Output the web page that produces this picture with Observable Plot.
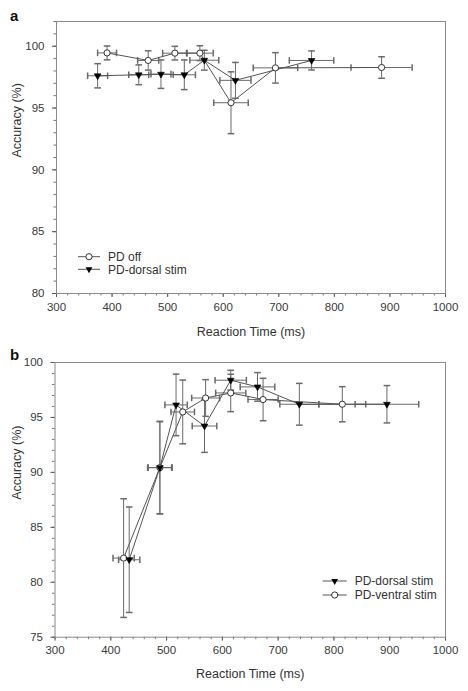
<!DOCTYPE html>
<html>
<head>
<meta charset="utf-8">
<script src="https://cdn.jsdelivr.net/npm/d3@7"></script>
<script src="https://cdn.jsdelivr.net/npm/@observablehq/plot@0.6"></script>
<style>
  html, body { margin: 0; padding: 0; background: #fff; }
  #wrap { position: relative; width: 468px; height: 691px; font-family: "Liberation Sans", Arial, sans-serif; color: #333; }
  #wrap svg { display: block; }
  .plabel { position: absolute; font-weight: bold; font-size: 15px; color: #111; line-height: 1; }
  #overlay { position: absolute; left: 0; top: 0; pointer-events: none; }
</style>
</head>
<body>
<div id="wrap"></div>
<script>
// ---------------- DATA ----------------
// Panel a: PD off (open circles)
const aOffRT     = [391, 465, 513, 558, 614, 694, 885];
const aOffAcc    = [99.46, 98.85, 99.44, 99.44, 95.43, 98.25, 98.28];
const aOffRTErr  = [17, 19, 22, 24, 31, 40, 55];
const aOffAccErr = [0.56, 0.78, 0.55, 0.6, 2.5, 1.23, 0.87];
// Panel a: PD-dorsal stim (filled triangles)
const aDorRT     = [374, 448, 488, 530, 566, 622, 759];
const aDorAcc    = [97.61, 97.69, 97.74, 97.69, 98.87, 97.24, 98.85];
const aDorRTErr  = [18, 18, 18, 20, 26, 28, 40];
const aDorAccErr = [0.98, 0.8, 1.15, 1.2, 0.8, 1.45, 0.77];
// Panel b: PD-dorsal stim (filled triangles)
const bDorRT     = [433, 488, 517, 568, 615, 663, 738, 895];
const bDorAcc    = [82.05, 90.43, 96.14, 94.22, 98.39, 97.78, 96.2, 96.2];
const bDorRTErr  = [19, 21, 20, 22, 28, 31, 35, 57];
const bDorAccErr = [4.8, 4.2, 2.8, 2.4, 0.9, 1.3, 1.9, 1.7];
// Panel b: PD-ventral stim (open circles)
const bVenRT     = [423, 488, 529, 570, 615, 673, 815];
const bVenAcc    = [82.2, 90.43, 95.5, 96.77, 97.23, 96.63, 96.2];
const bVenRTErr  = [19, 22, 21, 25, 27, 27, 42];
const bVenAccErr = [5.4, 4.2, 2.9, 1.67, 1.7, 1.93, 1.6];

const xTicks  = [300, 400, 500, 600, 700, 800, 900, 1000];
const aYTicks = [80, 85, 90, 95, 100];
const bYTicks = [75, 80, 85, 90, 95, 100];
const xTitle = "Reaction Time (ms)";
const yTitle = "Accuracy (%)";
const aLegend = ["PD off", "PD-dorsal stim"];
const bLegend = ["PD-dorsal stim", "PD-ventral stim"];

// ---------------- HELPERS ----------------
function rows(rt, acc, rtErr, accErr) {
  return rt.map((x, i) => ({rt: x, acc: acc[i], rtErr: rtErr[i], accErr: accErr[i]}));
}
const hCap = {draw(ctx, size) { const r = Math.sqrt(size / Math.PI); ctx.moveTo(-r, 0); ctx.lineTo(r, 0); }};
const vCap = {draw(ctx, size) { const r = Math.sqrt(size / Math.PI); ctx.moveTo(0, -r); ctx.lineTo(0, r); }};
const ERR = "#6a6a6a", LINE = "#555", CAP = 3.3;
const fmt = d => String(d);

function seriesMarks(data) {
  return [
    Plot.ruleX(data, {x: "rt", y1: d => d.acc - d.accErr, y2: d => d.acc + d.accErr, stroke: ERR, strokeWidth: 1}),
    Plot.ruleY(data, {y: "acc", x1: d => d.rt - d.rtErr, x2: d => d.rt + d.rtErr, stroke: ERR, strokeWidth: 1}),
    Plot.dot(data, {x: "rt", y: d => d.acc - d.accErr, symbol: hCap, r: CAP, stroke: ERR, fill: "none"}),
    Plot.dot(data, {x: "rt", y: d => d.acc + d.accErr, symbol: hCap, r: CAP, stroke: ERR, fill: "none"}),
    Plot.dot(data, {x: d => d.rt - d.rtErr, y: "acc", symbol: vCap, r: CAP, stroke: ERR, fill: "none"}),
    Plot.dot(data, {x: d => d.rt + d.rtErr, y: "acc", symbol: vCap, r: CAP, stroke: ERR, fill: "none"}),
    Plot.line(data, {x: "rt", y: "acc", stroke: LINE, strokeWidth: 1})
  ];
}
function symbolMarks(data, kind) {
  if (kind === "circle")
    return Plot.dot(data, {x: "rt", y: "acc", r: 3.1, fill: "white", stroke: "#333", strokeWidth: 1});
  return Plot.dot(data, {x: "rt", y: "acc", symbol: "triangle", rotate: 180, r: 2.5, fill: "#000", stroke: "#000", strokeWidth: 0.6});
}

function panel({height, marginTop, marginLeft, marginRight, marginBottom, yDomain, yTicks, series, ylabDx, xlabDy}) {
  const yMinor = d3.range(yDomain[0], Math.floor(yDomain[1]) + 1, 1);
  const xMinor = d3.range(300, 1001, 20);
  return Plot.plot({
    width: 468, height, marginTop, marginLeft, marginRight, marginBottom,
    style: {fontFamily: "'Liberation Sans', Arial, sans-serif", fontSize: "11px", color: "#3a3a3a", background: "white"},
    x: {domain: [300, 1000]},
    y: {domain: yDomain},
    marks: [
      Plot.axisX(xMinor, {tickSize: 2.5, tickFormat: () => "", label: null, stroke: "#777"}),
      Plot.axisX(xTicks, {tickSize: 4, tickPadding: 5, tickFormat: fmt, label: null, stroke: "#555", fontSize: 11.5}),
      Plot.axisY(yMinor, {tickSize: 2.5, tickFormat: () => "", label: null, stroke: "#777"}),
      Plot.axisY(yTicks, {tickSize: 4, tickPadding: 8, tickFormat: fmt, label: null, stroke: "#555", fontSize: 11.5}),
      Plot.frame({stroke: "#8a8a8a", strokeWidth: 1}),
      ...series.flatMap(s => seriesMarks(s.data)),
      ...series.map(s => symbolMarks(s.data, s.kind)),
      Plot.text([xTitle], {frameAnchor: "bottom", dy: xlabDy, lineAnchor: "middle", fontSize: 12.5, fill: "#333"}),
      Plot.text([yTitle], {frameAnchor: "left", dx: ylabDx, rotate: -90, fontSize: 12.5, fill: "#333"})
    ]
  });
}

// ---------------- BUILD ----------------
const wrap = document.getElementById("wrap");
const pa = panel({
  height: 341, marginTop: 21, marginLeft: 56, marginRight: 23, marginBottom: 48,
  yDomain: [80, 102], yTicks: aYTicks, ylabDx: -40, xlabDy: 38,
  series: [
    {data: rows(aOffRT, aOffAcc, aOffRTErr, aOffAccErr), kind: "circle"},
    {data: rows(aDorRT, aDorAcc, aDorRTErr, aDorAccErr), kind: "tri"}
  ]
});
const pb = panel({
  height: 350, marginTop: 21, marginLeft: 54.5, marginRight: 23, marginBottom: 54.3,
  yDomain: [75, 100], yTicks: bYTicks, ylabDx: -38.5, xlabDy: 36.5,
  series: [
    {data: rows(bVenRT, bVenAcc, bVenRTErr, bVenAccErr), kind: "circle"},
    {data: rows(bDorRT, bDorAcc, bDorRTErr, bDorAccErr), kind: "tri"}
  ]
});
wrap.appendChild(pa);
wrap.appendChild(pb);

const la = document.createElement("div"); la.className = "plabel"; la.textContent = "a";
la.style.left = "10px"; la.style.top = "8px"; wrap.appendChild(la);
const lb = document.createElement("div"); lb.className = "plabel"; lb.textContent = "b";
lb.style.left = "10px"; lb.style.top = "347px"; wrap.appendChild(lb);

// legends
const ov = d3.select(wrap).append("svg").attr("id", "overlay").attr("width", 468).attr("height", 691)
  .style("font-family", "'Liberation Sans', Arial, sans-serif");
function legendItem(x0, x1, y, kind, label) {
  ov.append("line").attr("x1", x0).attr("x2", x1).attr("y1", y).attr("y2", y).attr("stroke", LINE);
  const cx = (x0 + x1) / 2;
  if (kind === "circle") ov.append("circle").attr("cx", cx).attr("cy", y).attr("r", 3.1).attr("fill", "white").attr("stroke", "#333");
  else ov.append("path").attr("d", d3.symbol(d3.symbolTriangle, Math.PI * 2.5 * 2.5)()).attr("transform", `translate(${cx},${y}) rotate(180)`).attr("fill", "#000");
  ov.append("text").attr("x", x1 + 8).attr("y", y).attr("dy", "0.35em").attr("font-size", 12).attr("fill", "#333").text(label);
}
legendItem(78, 100, 256.7, "circle", aLegend[0]);
legendItem(78, 100, 269.3, "tri", aLegend[1]);
legendItem(322.7, 346.7, 581, "tri", bLegend[0]);
legendItem(322.7, 346.7, 595, "circle", bLegend[1]);
</script>
</body>
</html>
